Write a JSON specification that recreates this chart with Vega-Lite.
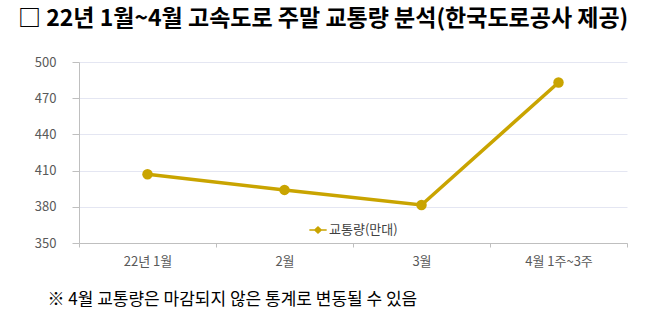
{
  "$schema": "https://vega.github.io/schema/vega-lite/v6.json",
  "autosize": "none",
  "width": 548,
  "height": 181,
  "padding": {"left": 79, "top": 62, "right": 31, "bottom": 80},
  "background": "white",
  "config": {"view": {"stroke": null}, "font": "Noto Sans CJK KR"},
  "title": {
    "text": "□ 22년 1월~4월 고속도로 주말 교통량 분석(한국도로공사 제공)",
    "anchor": "start",
    "frame": "group",
    "dx": -61,
    "offset": 25,
    "fontSize": 23,
    "fontWeight": "bold",
    "color": "#000000",
    "font": "Noto Sans CJK KR"
  },
  "data": {
    "values": [
      {"month": "22년 1월", "traffic": 407, "series": "교통량(만대)"},
      {"month": "2월", "traffic": 394, "series": "교통량(만대)"},
      {"month": "3월", "traffic": 381.5, "series": "교통량(만대)"},
      {"month": "4월 1주~3주", "traffic": 483, "series": "교통량(만대)"}
    ]
  },
  "encoding": {
    "x": {
      "field": "month",
      "type": "nominal",
      "sort": null,
      "scale": {"type": "band", "paddingInner": 0, "paddingOuter": 0},
      "axis": {
        "labelAngle": 0,
        "labelFontSize": 13,
        "labelColor": "#595959",
        "labelPadding": 8,
        "tickBand": "extent",
        "tickColor": "#bfbfbf",
        "tickSize": 4,
        "domainColor": "#bfbfbf",
        "title": "※ 4월 교통량은 마감되지 않은 통계로 변동될 수 있음",
        "titleAnchor": "start",
        "titleAlign": "left",
        "titleX": -32,
        "titleY": 48,
        "titleFontSize": 17,
        "titleFontWeight": "normal",
        "titleColor": "#000000"
      }
    },
    "y": {
      "field": "traffic",
      "type": "quantitative",
      "scale": {"domain": [350, 500], "zero": false, "nice": false},
      "axis": {
        "values": [350, 380, 410, 440, 470, 500],
        "title": null,
        "labelFontSize": 13,
        "labelColor": "#595959",
        "labelPadding": 16,
        "tickSize": 7,
        "tickColor": "#bfbfbf",
        "domainColor": "#bfbfbf",
        "gridColor": "#e4e6f2"
      }
    },
    "color": {
      "field": "series",
      "type": "nominal",
      "scale": {"range": ["#c9a400"]},
      "legend": {
        "orient": "none",
        "legendX": 230,
        "legendY": 159,
        "title": null,
        "labelFontSize": 13,
        "labelColor": "#404040",
        "symbolType": "M-1,-0.1L-0.4,-0.1L0,-0.45L0.4,-0.1L1,-0.1L1,0.1L0.4,0.1L0,0.45L-0.4,0.1L-1,0.1Z",
        "symbolSize": 300,
        "symbolStrokeWidth": 0,
        "symbolFillColor": "#c9a400",
        "labelOffset": 2
      }
    }
  },
  "layer": [
    {"mark": {"type": "line", "strokeWidth": 3.5}},
    {"mark": {"type": "point", "filled": true, "opacity": 1, "size": 110, "shape": "circle"}}
  ]
}
